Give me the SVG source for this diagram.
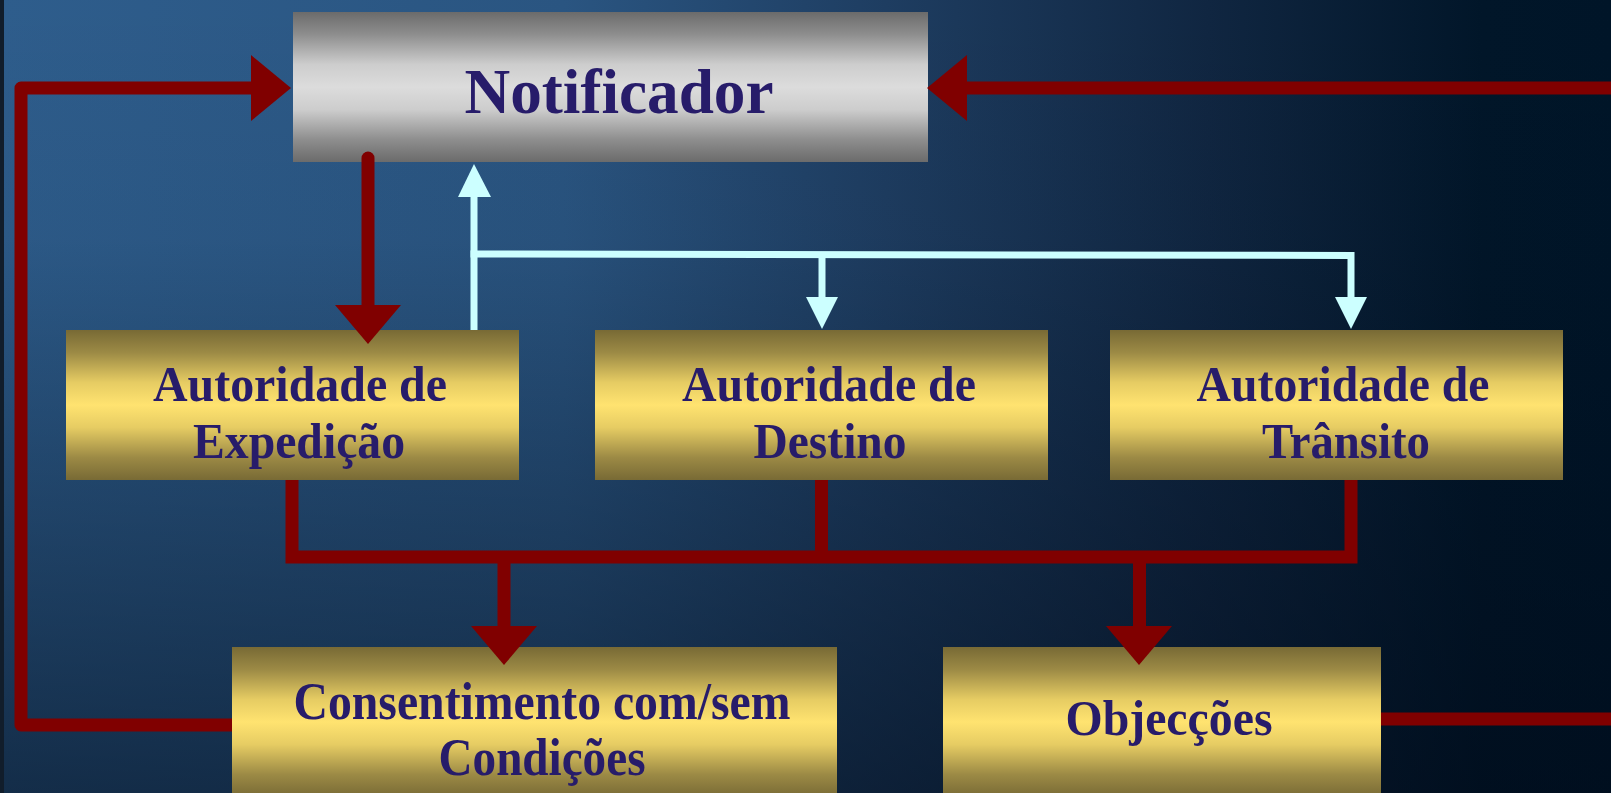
<svg xmlns="http://www.w3.org/2000/svg" width="1611" height="793" viewBox="0 0 1611 793">
<defs>
<linearGradient id="bgH" x1="0" y1="0" x2="1611" y2="0" gradientUnits="userSpaceOnUse">
<stop offset="0" stop-color="#2e5d8c"/>
<stop offset="0.35" stop-color="#2a5581"/>
<stop offset="0.55" stop-color="#1e3d61"/>
<stop offset="0.75" stop-color="#102641"/>
<stop offset="0.92" stop-color="#011629"/>
<stop offset="1" stop-color="#001528"/>
</linearGradient>
<linearGradient id="bgV" x1="0" y1="0" x2="0" y2="793" gradientUnits="userSpaceOnUse">
<stop offset="0" stop-color="#000a18" stop-opacity="0"/>
<stop offset="0.3" stop-color="#000a18" stop-opacity="0.05"/>
<stop offset="1" stop-color="#000a18" stop-opacity="0.58"/>
</linearGradient>
<linearGradient id="gold" x1="0" y1="0" x2="0" y2="1">
<stop offset="0" stop-color="#786a35"/>
<stop offset="0.15" stop-color="#9c8a45"/>
<stop offset="0.35" stop-color="#e6cc63"/>
<stop offset="0.5" stop-color="#ffe370"/>
<stop offset="0.65" stop-color="#e6cc63"/>
<stop offset="0.85" stop-color="#9c8a45"/>
<stop offset="1" stop-color="#786a35"/>
</linearGradient>
<linearGradient id="gray" x1="0" y1="0" x2="0" y2="1">
<stop offset="0" stop-color="#6b6b6b"/>
<stop offset="0.15" stop-color="#8e8e8e"/>
<stop offset="0.35" stop-color="#cdcdcd"/>
<stop offset="0.5" stop-color="#dcdcdc"/>
<stop offset="0.65" stop-color="#cdcdcd"/>
<stop offset="0.85" stop-color="#8e8e8e"/>
<stop offset="1" stop-color="#6b6b6b"/>
</linearGradient>
<style>
.lbl{font-family:"Liberation Serif","Times New Roman",serif;font-weight:bold;fill:#271c6a;text-anchor:middle}
.gold{fill:url(#gold)}
.red{fill:none;stroke:#800000;stroke-width:13}
.redh{fill:#800000}
.cyan{fill:none;stroke:#ccffff;stroke-width:7}
.cyanh{fill:#ccffff}
</style>
</defs>
<rect width="1611" height="793" fill="url(#bgH)"/>
<rect width="1611" height="793" fill="url(#bgV)"/>
<rect x="0" y="0" width="4" height="793" fill="#111d2b"/>

<g id="notificador">
<rect x="293" y="12" width="635" height="150" fill="url(#gray)"/>
<text class="lbl" x="619" y="113" font-size="64" textLength="309" lengthAdjust="spacingAndGlyphs">Notificador</text>
</g>
<g id="expedicao">
<rect class="gold" x="66" y="330" width="453" height="150"/>
<text class="lbl" x="300" y="401" font-size="50" textLength="294" lengthAdjust="spacingAndGlyphs">Autoridade de</text>
<text class="lbl" x="299" y="458" font-size="50" textLength="212" lengthAdjust="spacingAndGlyphs">Expedição</text>
</g>
<g id="destino">
<rect class="gold" x="595" y="330" width="453" height="150"/>
<text class="lbl" x="829" y="401" font-size="50" textLength="294" lengthAdjust="spacingAndGlyphs">Autoridade de</text>
<text class="lbl" x="830" y="458" font-size="50" textLength="153" lengthAdjust="spacingAndGlyphs">Destino</text>
</g>
<g id="transito">
<rect class="gold" x="1110" y="330" width="453" height="150"/>
<text class="lbl" x="1343" y="401" font-size="50" textLength="293" lengthAdjust="spacingAndGlyphs">Autoridade de</text>
<text class="lbl" x="1346" y="458" font-size="50" textLength="168" lengthAdjust="spacingAndGlyphs">Trânsito</text>
</g>
<g id="consentimento">
<rect class="gold" x="232" y="647" width="605" height="150"/>
<text class="lbl" x="542" y="719" font-size="52" textLength="497" lengthAdjust="spacingAndGlyphs">Consentimento com/sem</text>
<text class="lbl" x="542" y="775" font-size="52" textLength="207" lengthAdjust="spacingAndGlyphs">Condições</text>
</g>
<g id="objeccoes">
<rect class="gold" x="943" y="647" width="438" height="150"/>
<text class="lbl" x="1169" y="735" font-size="50" textLength="207" lengthAdjust="spacingAndGlyphs">Objecções</text>
</g>

<g id="connectors">
<path class="red" d="M232 725 L21 725 L21 88 L252 88" stroke-linejoin="round"/>
<polygon class="redh" points="251,55 291,88 251,121"/>
<path class="red" d="M1611 88 L966 88"/>
<polygon class="redh" points="967,55 927,88 967,121"/>
<path class="red" d="M368 158 L368 306" stroke-linecap="round"/>
<polygon class="redh" points="335,305 401,305 368,344"/>
<path class="red" d="M292 480 L292 557 L1351 557 L1351 480" stroke-linejoin="miter"/>
<path class="red" d="M821.5 480 L821.5 557"/>
<path class="red" d="M504 557 L504 627"/>
<polygon class="redh" points="471,626 537,626 504,665"/>
<path class="red" d="M1139.5 557 L1139.5 627"/>
<polygon class="redh" points="1106,626 1172,626 1139,665"/>
<path class="red" d="M1381 719 L1611 719"/>
<path class="cyan" d="M474 330 L474 196"/>
<polygon class="cyanh" points="458,197 474,164 491,197"/>
<path class="cyan" d="M470.5 254 L1351 255.5 L1351 298"/>
<path class="cyan" d="M822 254.5 L822 298"/>
<polygon class="cyanh" points="806,297 838,297 822,329"/>
<polygon class="cyanh" points="1335,297 1367,297 1351,329"/>
</g>
</svg>
